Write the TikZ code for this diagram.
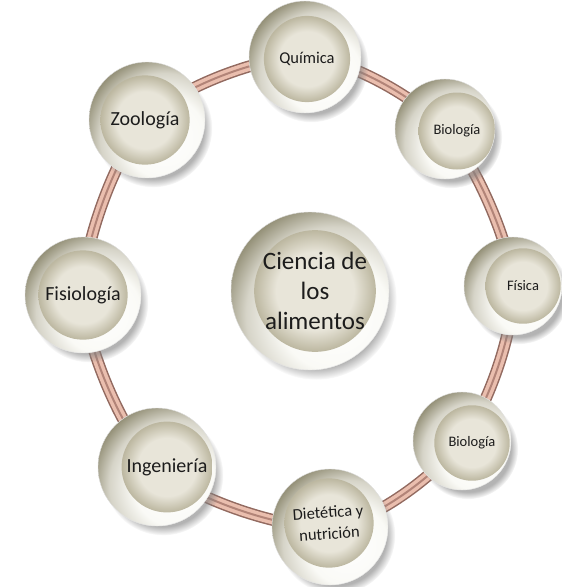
\documentclass[tikz,border=0pt]{standalone}
\usepackage{fontspec}
\setmainfont{Carlito}
\usetikzlibrary{shadows,backgrounds}

\definecolor{bezeldark}{RGB}{140,136,110}
\definecolor{bezelmid}{RGB}{214,212,200}
\definecolor{bezellight}{RGB}{250,250,246}
\definecolor{facelight}{RGB}{232,229,217}
\definecolor{facedark}{RGB}{188,183,160}
\definecolor{tubedark}{RGB}{146,106,96}
\definecolor{tubepink}{RGB}{234,190,174}
\definecolor{tubemid}{RGB}{178,132,120}
\definecolor{ink}{RGB}{28,28,28}

\pgfdeclareradialshading{bezelshade}{\pgfpoint{0bp}{0bp}}{color(0bp)=(white); color(12bp)=(bezellight); color(19bp)=(bezelmid); color(25bp)=(bezeldark); color(50bp)=(bezeldark)}
\pgfdeclareradialshading{faceshade}{\pgfpoint{0bp}{0bp}}{color(0bp)=(facelight); color(16bp)=(facelight); color(25bp)=(facedark); color(50bp)=(facedark)}

\tikzset{
  hubtext/.style={font=\fontsize{25}{30}\selectfont},
  bigtext/.style={font=\fontsize{20}{24}\selectfont},
  midtext/.style={font=\fontsize{16.5}{21.5}\selectfont},
  smalltext/.style={font=\fontsize{14.5}{17}\selectfont},
  % outer bezel, inner face (offset by #2,#3) and the label on the face
  disc/.style n args={5}{circle, minimum size=#1pt, inner sep=0pt,
    draw=black!12, line width=0.4pt, fill=bezellight,
    circular drop shadow={shadow xshift=6pt, shadow yshift=-8pt, shadow scale=1.02, opacity=0.6},
    path picture={
      \shade[shading=bezelshade] ([shift={(#1*0.15,#1*0.15)}]path picture bounding box.center) circle (#1*0.73);
      \shade[shading=faceshade] ([shift={(#2,#3)}]path picture bounding box.center) circle (#1*0.385);
    },
    label={[#4, text=ink, align=center, shift={(#2,#3)}]center:#5}},
  ring/.style={line width=12pt, draw=tubedark,
    postaction={draw=tubepink, line width=9pt},
    postaction={draw=tubemid, line width=2pt}}
}

\begin{document}
\begin{tikzpicture}[x=1pt, y=-1pt]
  \useasboundingbox (0,0) rectangle (562,587);

  % discs
  \node[disc={158}{5}{0}{hubtext}{Ciencia de\\los\\alimentos}] (hub) at (310,291) {};
  \node[disc={112}{2}{2}{midtext}{Química}] (quimica) at (305,57) {};
  \node[disc={100}{12}{2}{smalltext}{Biología}] (biologiaA) at (445,129) {};
  \node[disc={98}{10}{0}{smalltext}{Física}] (fisica) at (513,286) {};
  \node[disc={98}{10}{2}{smalltext}{Biología}] (biologiaB) at (462,441) {};
  \node[disc={116}{-1}{-4}{midtext, rotate=4}{Dietética y\\nutrición}] (dietetica) at (330,527) {};
  \node[disc={118}{10}{0}{bigtext}{Ingeniería}] (ingenieria) at (157,467) {};
  \node[disc={116}{0}{0}{bigtext}{Fisiología}] (fisiologia) at (83,295) {};
  \node[disc={116}{-2}{0}{bigtext}{Zoología}] (zoologia) at (147,120) {};

  % ring behind the discs
  \begin{scope}[on background layer]
    \draw[ring] plot[smooth cycle] coordinates {(quimica.center) (biologiaA.center) (fisica.center)
      (biologiaB.center) (dietetica.center) (ingenieria.center) (fisiologia.center) (zoologia.center)};
  \end{scope}
\end{tikzpicture}
\end{document}
